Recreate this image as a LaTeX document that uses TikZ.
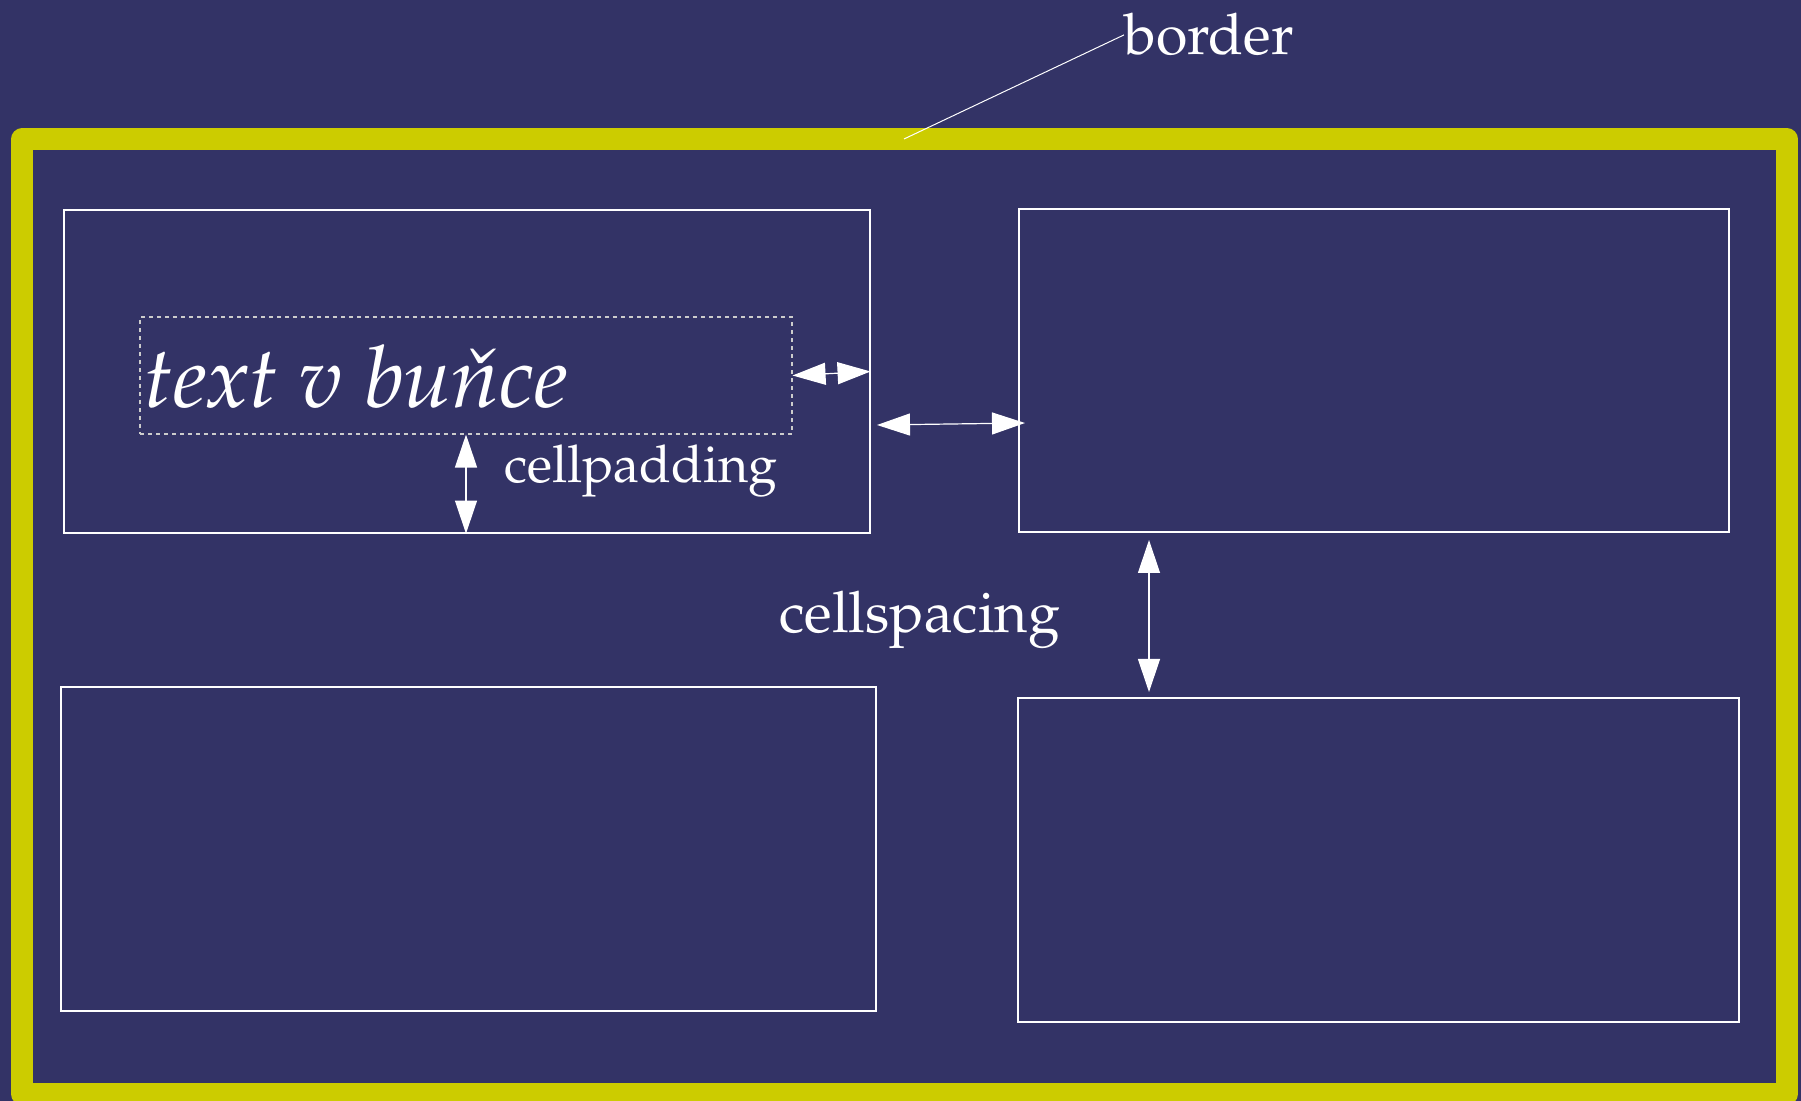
\documentclass[tikz,border=0pt]{standalone}
\usepackage[T1]{fontenc}
\usepackage{mathpazo}
\usetikzlibrary{arrows.meta,fit}
\definecolor{tablebg}{HTML}{333366}
\definecolor{borderyellow}{HTML}{CCCC00}
\tikzset{
  cellbox/.style={draw=white, line width=0.55pt, inner sep=0pt},
  padbox/.style={draw=black!20, dash pattern=on 2pt off 2pt, line width=0.55pt, inner sep=0pt},
  dimarrow/.style={draw=white, line width=0.6pt, {Triangle[length=16.5pt,width=11pt]}-{Triangle[length=16.5pt,width=11pt]}},
  lbl/.style={text=white, inner sep=0pt, anchor=base west, font=\fontsize{28.6}{33}\selectfont}
}

\begin{document}
\begin{tikzpicture}[x=0.5pt,y=-0.5pt]
			%%%%% START %%%%%
			
			\fill[tablebg] (0,0) rectangle (1801,1101);
			\useasboundingbox (0,0) rectangle (1801,1101);
			
			% table border
			\draw[borderyellow, line width=11pt, line join=round] (22,139.5) rectangle (1787,1094);
			
			% cells
			\node[cellbox, fit={(64,210) (870,533)}] (cell1) {};
			\node[cellbox, fit={(1019,209) (1729,532)}] (cell2) {};
			\node[cellbox, fit={(61,687) (876,1011)}] (cell3) {};
			\node[cellbox, fit={(1018,698) (1739,1022)}] (cell4) {};
			
			% content of the first cell
			\node[padbox, fit={(140,317) (792,434)}] (pad) {};
			\node[text=white, inner sep=0pt, anchor=base west, font=\fontsize{43}{48}\selectfont\itshape] (celltext) at (144,408) {text v bu\v{n}ce};
			
			% labels
			\node[lbl, font=\fontsize{26}{30}\selectfont] (padlabel) at (504,483) {cellpadding};
			\node[lbl] (spacelabel) at (779,633) {cellspacing};
			\node[lbl] (borderlabel) at (1124,55) {border};
			
			\coordinate (bordertip) at (904,139);
			\draw[white, line width=0.5pt] (bordertip) -- (borderlabel.west);
			
			% padding
			\draw[dimarrow] (pad.east) -- (cell1.east);
			\draw[dimarrow] (pad.south) -- (pad.south |- cell1.south);
			
			% spacing
			\coordinate (gapL) at (877,425);
			\coordinate (gapR) at (1025,423);
			\draw[dimarrow] (gapL) -- (gapR);
			\coordinate (gapT) at (1149,540);
			\coordinate (gapB) at (1149,692);
			\draw[dimarrow] (gapT) -- (gapB);
			
			%%%%% END %%%%%
\end{tikzpicture}
\end{document}
